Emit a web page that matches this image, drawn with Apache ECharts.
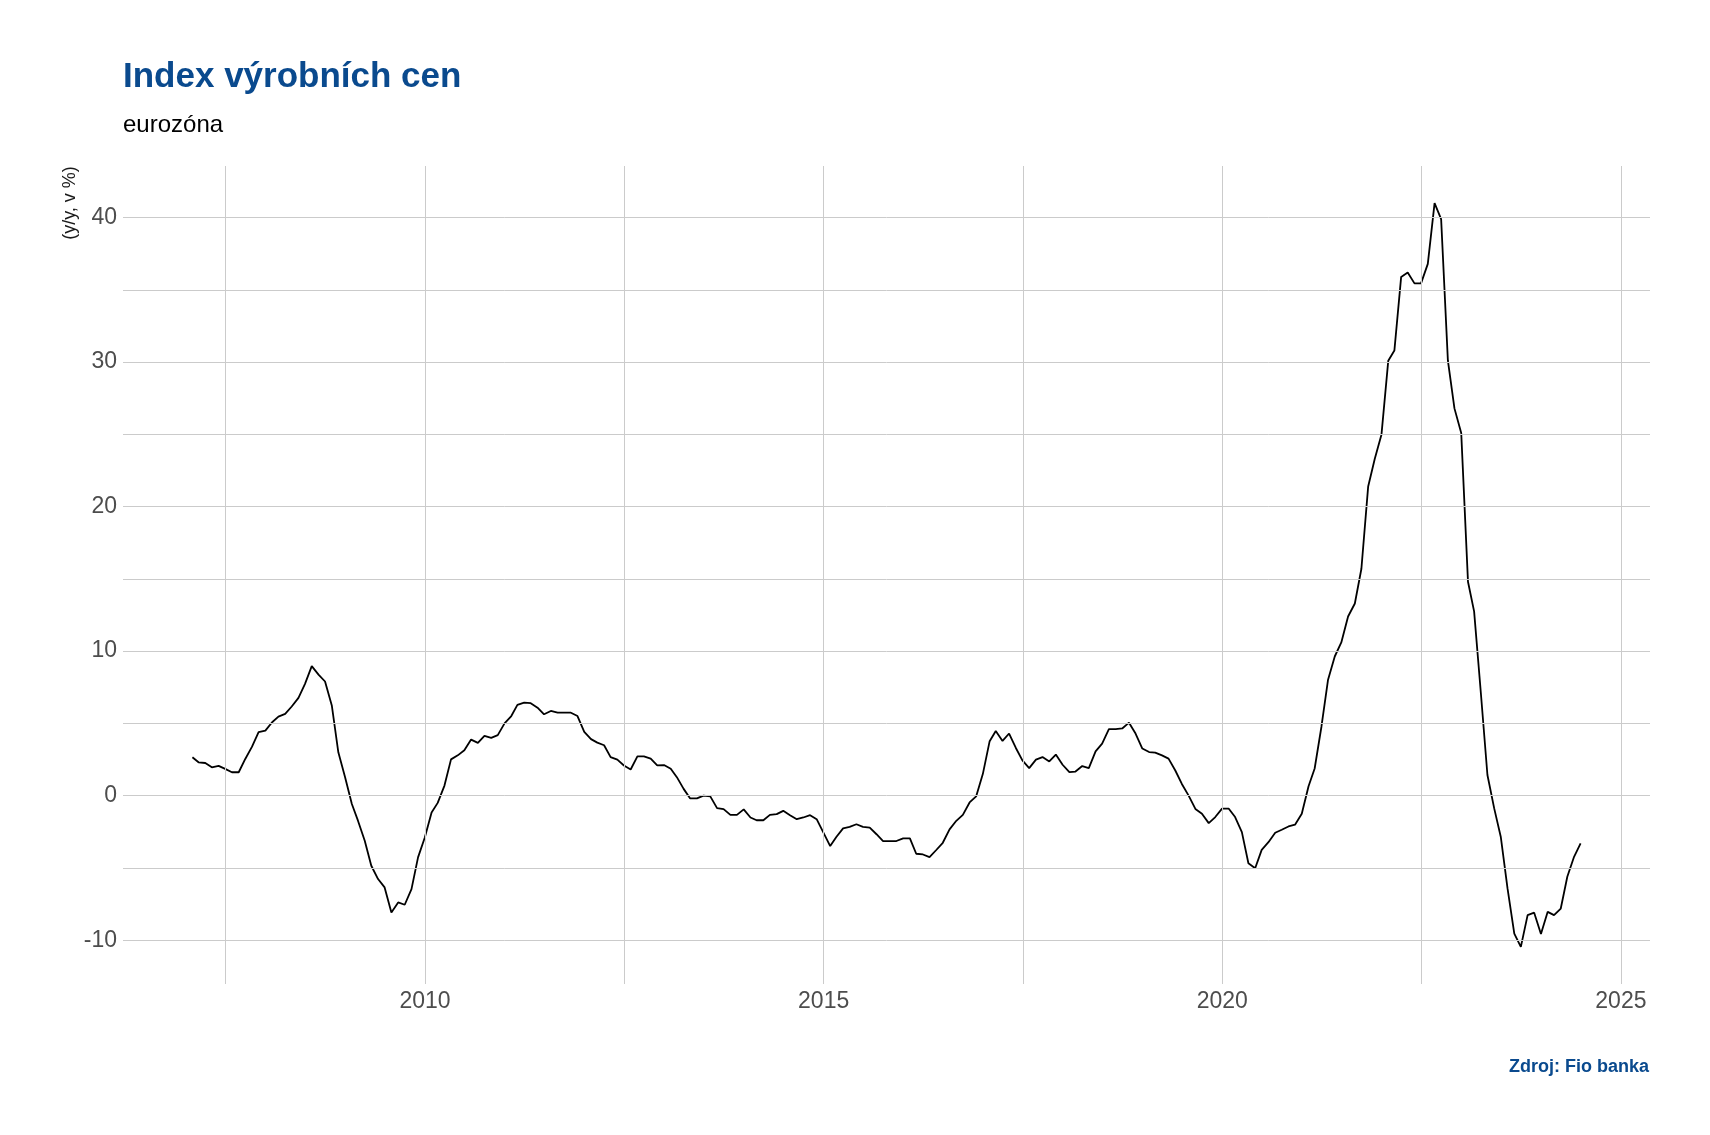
<!DOCTYPE html>
<html>
<head>
<meta charset="utf-8">
<script src="https://cdn.jsdelivr.net/npm/echarts@6/dist/echarts.min.js"></script>
<style>
html,body{margin:0;padding:0;background:#fff;}
#chart{width:1710px;height:1135px;}
</style>
</head>
<body>
<div id="chart"></div>
<script>
// Monthly series, first observation January 2007, plotted at month end
var firstYear = 2007;
var firstMonth = 1;
// Eurozone producer price index, y/y in % (one row per year, Jan..Dec)
var ppiYoY = [
  2.66, 2.31, 2.26, 1.96, 2.06, 1.85, 1.62, 1.62, 2.54, 3.39, 4.39, 4.50,             // 2007
  5.08, 5.47, 5.66, 6.17, 6.77, 7.74, 8.96, 8.38, 7.90, 6.24, 3.00, 1.27,             // 2008
  -0.58, -1.73, -3.12, -4.85, -5.77, -6.35, -8.08, -7.39, -7.55, -6.47, -4.27, -2.89, // 2009
  -1.16, -0.50, 0.70, 2.51, 2.79, 3.14, 3.88, 3.65, 4.14, 4.00, 4.19, 5.00,           // 2010
  5.51, 6.28, 6.44, 6.40, 6.09, 5.63, 5.86, 5.74, 5.74, 5.74, 5.51, 4.42,             // 2011
  3.91, 3.67, 3.49, 2.67, 2.49, 2.09, 1.81, 2.72, 2.72, 2.56, 2.09, 2.12,             // 2012
  1.86, 1.28, 0.47, -0.19, -0.19, 0.00, -0.05, -0.86, -0.93, -1.33, -1.33, -0.95,     // 2013
  -1.51, -1.70, -1.70, -1.33, -1.28, -1.05, -1.35, -1.63, -1.51, -1.35, -1.63, -2.56, // 2014
  -3.49, -2.86, -2.26, -2.16, -1.98, -2.16, -2.21, -2.67, -3.14, -3.14, -3.14, -2.95, // 2015
  -2.95, -4.02, -4.07, -4.25, -3.76, -3.26, -2.33, -1.74, -1.33, -0.47, -0.05, 1.51,  // 2016
  3.77, 4.47, 3.79, 4.30, 3.30, 2.44, 1.91, 2.49, 2.67, 2.37, 2.84, 2.14,             // 2017
  1.63, 1.67, 2.05, 1.91, 3.07, 3.60, 4.60, 4.60, 4.65, 5.05, 4.30, 3.26,             // 2018
  3.02, 2.98, 2.79, 2.56, 1.74, 0.81, 0.00, -0.92, -1.25, -1.90, -1.48, -0.90,        // 2019
  -0.90, -1.48, -2.52, -4.68, -5.02, -3.75, -3.22, -2.57, -2.36, -2.13, -2.01, -1.25, // 2020
  0.65, 1.88, 4.77, 8.00, 9.63, 10.6, 12.4, 13.3, 15.7, 21.4, 23.3, 25.0,             // 2021
  30.1, 30.8, 35.9, 36.2, 35.45, 35.45, 36.8, 41.0, 39.9, 30.1, 26.8, 25.1,           // 2022
  14.8, 12.75, 7.09, 1.43, -0.88, -2.84, -6.42, -9.54, -10.46, -8.27, -8.10, -9.58,   // 2023
  -8.04, -8.27, -7.81, -5.61, -4.23, -3.30                                            // 2024
];
var xTickYears = [2010, 2015, 2020, 2025];
var xGridYears = [2007.5, 2010, 2012.5, 2015, 2017.5, 2020, 2022.5, 2025];
var yTickValues = [-10, 0, 10, 20, 30, 40];
var yGridValues = [-10, -5, 0, 5, 10, 15, 20, 25, 30, 35, 40];
</script>
<script>
// fractional year of the last day of a month (month 0-based)
function monthEndYear(y, m) {
  var t = Date.UTC(y, m + 1, 0);
  var a = Date.UTC(y, 0, 1), b = Date.UTC(y + 1, 0, 1);
  return y + (t - a) / (b - a);
}
var seriesData = ppiYoY.map(function (v, i) {
  var k = firstMonth - 1 + i;
  return [monthEndYear(firstYear + Math.floor(k / 12), k % 12), v];
});

var xFirst = seriesData[0][0], xLast = seriesData[seriesData.length - 1][0];
var xPad = (xLast - xFirst) * 0.05;
var yMinV = Math.min.apply(null, ppiYoY), yMaxV = Math.max.apply(null, ppiYoY);
var yPad = (yMaxV - yMinV) * 0.05;

var fontFam = '"Liberation Sans", Arial, sans-serif';
var gridColor = '#cbcbcb';

var markData = [];
xGridYears.forEach(function (d) { markData.push({ xAxis: d }); });
yGridValues.forEach(function (v) { markData.push({ yAxis: v }); });

var chart = echarts.init(document.getElementById('chart'), null, { renderer: 'canvas' });
chart.setOption({
  animation: false,
  backgroundColor: '#ffffff',
  title: [
    { text: 'Index výrobních cen', left: 123, top: 60, padding: 0,
      textStyle: { fontFamily: fontFam, fontSize: 35, fontWeight: 'bold', color: '#0a4a8e' } },
    { text: 'eurozóna', left: 123, top: 113, padding: 0,
      textStyle: { fontFamily: fontFam, fontSize: 24, fontWeight: 'normal', color: '#000000' } },
    { text: 'Zdroj: Fio banka', right: 61, top: 1058, padding: 0,
      textStyle: { fontFamily: fontFam, fontSize: 18, fontWeight: 'bold', color: '#0a4a8e' } }
  ],
  graphic: [
    { type: 'text', x: 70, y: 203, rotation: Math.PI / 2,
      style: { text: '(y/y, v %)', font: '18px ' + fontFam, fill: '#1a1a1a', align: 'center', verticalAlign: 'middle' } }
  ],
  grid: { left: 123, right: 60, top: 166, bottom: 151, containLabel: false },
  xAxis: {
    type: 'value',
    min: xFirst - xPad,
    max: xLast + xPad,
    axisLine: { show: false },
    axisTick: { show: false },
    splitLine: { show: false },
    axisLabel: {
      customValues: xTickYears,
      formatter: function (v) { return String(Math.round(v)); },
      fontFamily: fontFam, fontSize: 23, color: '#4d4d4d', margin: 6,
      showMinLabel: true, showMaxLabel: true, hideOverlap: false
    }
  },
  yAxis: {
    type: 'value',
    min: yMinV - yPad,
    max: yMaxV + yPad,
    axisLine: { show: false },
    axisTick: { show: false },
    splitLine: { show: false },
    axisLabel: {
      customValues: yTickValues,
      formatter: function (v) { return String(v); },
      fontFamily: fontFam, fontSize: 23, color: '#4d4d4d', margin: 6
    }
  },
  series: [
    {
      name: 'grid', type: 'line', data: seriesData, symbol: 'none', silent: true, z: 1,
      lineStyle: { opacity: 0 },
      markLine: {
        silent: true, symbol: ['none', 'none'], animation: false,
        label: { show: false },
        lineStyle: { color: gridColor, width: 1, type: 'solid' },
        emphasis: { disabled: true },
        data: markData
      }
    },
    {
      name: 'PPI', type: 'line', data: seriesData, symbol: 'none', z: 3,
      lineStyle: { color: '#000000', width: 1.8 },
      emphasis: { disabled: true }
    }
  ]
});
</script>
</body>
</html>
